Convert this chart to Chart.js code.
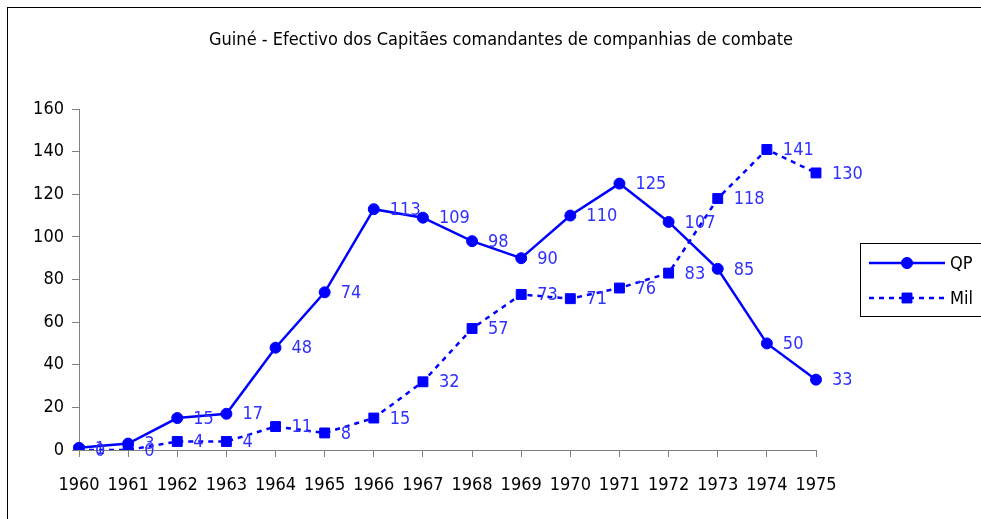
<!DOCTYPE html>
<html>
<head>
<meta charset="utf-8">
<script src="https://cdn.jsdelivr.net/npm/chart.js@4/dist/chart.umd.min.js"></script>
<style>
  html, body { margin: 0; padding: 0; background: #fff; }
  #wrap { width: 981px; height: 519px; position: relative; }
</style>
</head>
<body>
<div id="wrap"><canvas id="chart" width="981" height="519"></canvas></div>
<script>
const FONT = '"Liberation Sans Narrow", "Arial Narrow", "DejaVu Sans Condensed", sans-serif';

const years = ["1960", "1961", "1962", "1963", "1964", "1965", "1966", "1967",
  "1968", "1969", "1970", "1971", "1972", "1973", "1974", "1975"];
const qpValues = [1, 3, 15, 17, 48, 74, 113, 109, 98, 90, 110, 125, 107, 85, 50, 33];
const milValues = [0, 0, 4, 4, 11, 8, 15, 32, 57, 73, 71, 76, 83, 118, 141, 130];
const titleText = "Guiné - Efectivo dos Capitães comandantes de companhias de combate";

const BLUE = "#0000ff";
const LABEL_BLUE = "#3030ff";

// frame, title, point labels and legend box
const decorations = {
  id: "decorations",
  beforeDraw(chart) {
    const ctx = chart.ctx;
    ctx.save();
    ctx.strokeStyle = "#000";
    ctx.lineWidth = 1;
    ctx.strokeRect(7.5, 7.5, 1200, 800);
    ctx.restore();
  },
  afterDatasetsDraw(chart) {
    const ctx = chart.ctx;
    ctx.save();
    ctx.font = "18px " + FONT;
    ctx.fillStyle = "#000";
    ctx.textAlign = "center";
    ctx.textBaseline = "middle";
    ctx.fillText(titleText, 501, 40);

    ctx.fillStyle = LABEL_BLUE;
    ctx.font = "18px " + FONT;
    ctx.textAlign = "left";
    chart.data.datasets.forEach((ds, i) => {
      chart.getDatasetMeta(i).data.forEach((pt, j) => {
        ctx.fillText(String(ds.data[j]), pt.x + 16, pt.y + 1);
      });
    });

    // legend
    const lx = 860.5, ly = 243.5, lw = 130, lh = 73;
    ctx.fillStyle = "#fff";
    ctx.fillRect(lx, ly, lw, lh);
    ctx.strokeStyle = "#000";
    ctx.lineWidth = 1;
    ctx.strokeRect(lx, ly, lw, lh);
    const rows = [
      { label: "QP", y: 263, dash: [], style: "circle", r: 5.5 },
      { label: "Mil", y: 298, dash: [5, 5], style: "rect", r: 7 },
    ];
    rows.forEach((row) => {
      ctx.strokeStyle = BLUE;
      ctx.lineWidth = 2.5;
      ctx.setLineDash(row.dash);
      ctx.beginPath();
      ctx.moveTo(869, row.y);
      ctx.lineTo(945, row.y);
      ctx.stroke();
      ctx.setLineDash([]);
      ctx.fillStyle = BLUE;
      ctx.strokeStyle = BLUE;
      ctx.lineWidth = 1;
      Chart.helpers.drawPoint(ctx, { pointStyle: row.style, radius: row.r, borderWidth: 1 }, 907, row.y);
      ctx.fill();
      ctx.fillStyle = "#000";
      ctx.font = "18px " + FONT;
      ctx.textAlign = "left";
      ctx.fillText(row.label, 950, row.y + 1);
    });
    ctx.restore();
  },
};

new Chart(document.getElementById("chart"), {
  type: "line",
  data: {
    labels: years,
    datasets: [
      {
        label: "QP",
        data: qpValues,
        borderColor: BLUE,
        backgroundColor: BLUE,
        borderWidth: 2.5,
        pointStyle: "circle",
        pointRadius: 5.5,
        pointBorderWidth: 1,
        tension: 0,
      },
      {
        label: "Mil",
        data: milValues,
        borderColor: BLUE,
        backgroundColor: BLUE,
        borderWidth: 2.5,
        borderDash: [5, 5],
        pointStyle: "rect",
        pointRadius: 7,
        pointBorderWidth: 1,
        tension: 0,
      },
    ],
  },
  options: {
    animation: false,
    responsive: false,
    layout: { padding: { left: 10, top: 109, right: 165, bottom: 10 } },
    scales: {
      x: {
        offset: false,
        grid: { drawOnChartArea: false, color: "#808080", tickLength: 7 },
        border: { color: "#808080", width: 1 },
        ticks: { color: "#000", font: { family: FONT, size: 18 }, maxRotation: 0, autoSkip: false, padding: 18 },
        afterFit: (s) => { s.height = 59; },
      },
      y: {
        min: 0,
        max: 160,
        grid: { drawOnChartArea: false, color: "#808080", tickLength: 7 },
        border: { color: "#808080", width: 1 },
        ticks: { stepSize: 20, color: "#000", font: { family: FONT, size: 18 }, padding: 8 },
        afterFit: (s) => { s.width = 69; },
      },
    },
    plugins: {
      legend: { display: false },
      tooltip: { enabled: false },
    },
  },
  plugins: [decorations],
});
</script>
</body>
</html>
